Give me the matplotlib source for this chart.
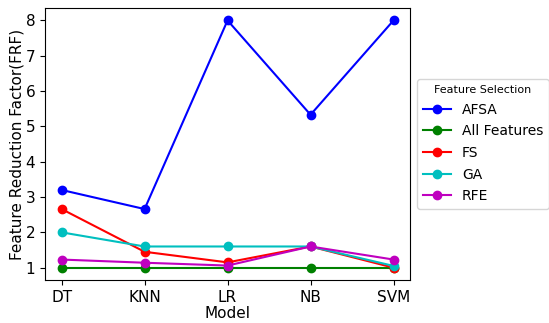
import matplotlib
matplotlib.use("Agg")
import matplotlib.pyplot as plt

matplotlib.rcParams.update({"font.size": 11})

models = ["DT", "KNN", "LR", "NB", "SVM"]
afsa = [3.2, 2.66, 8.0, 5.33, 8.0]
all_features = [1.0, 1.0, 1.0, 1.0, 1.0]
fs = [2.66, 1.45, 1.15, 1.6, 1.0]
ga = [2.0, 1.6, 1.6, 1.6, 1.05]
rfe = [1.23, 1.14, 1.06, 1.6, 1.23]

fig, ax = plt.subplots(figsize=(5.49, 3.23), dpi=100)
fig.subplots_adjust(left=0.082, right=0.747, top=0.975, bottom=0.133)

ax.plot(models, afsa, "o-", color="b", label="AFSA")
ax.plot(models, all_features, "o-", color="g", label="All Features")
ax.plot(models, fs, "o-", color="r", label="FS")
ax.plot(models, ga, "o-", color="c", label="GA")
ax.plot(models, rfe, "o-", color="m", label="RFE")

ax.set_xlabel("Model", labelpad=1)
ax.set_ylabel("Feature Reduction Factor(FRF)", labelpad=1)
ax.set_yticks(range(1, 9))
ax.legend(title="Feature Selection", loc="center left", bbox_to_anchor=(1.02, 0.5),
          borderaxespad=0, title_fontsize=8, fontsize=10, labelspacing=0.55)

fig.savefig("out.png")
